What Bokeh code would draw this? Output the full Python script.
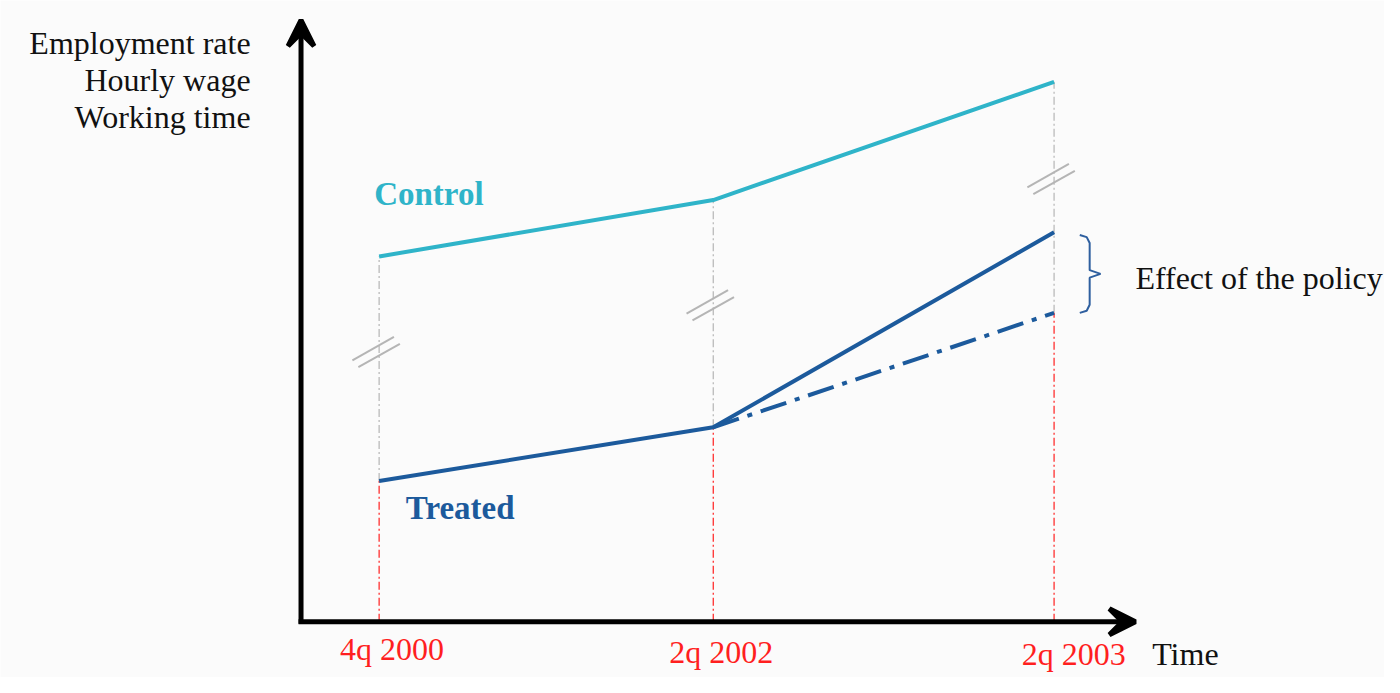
from bokeh.plotting import figure
from bokeh.models import Arrow, VeeHead, Range1d
from bokeh.core.properties import value
from bokeh.embed import file_html
from bokeh.resources import INLINE

# ---- data (schematic levels) ----
periods = ["4q 2000", "2q 2002", "2q 2003"]
period_x = [0.0, 1.0, 2.02]
control = [68.0, 78.5, 100.5]
treated = [26.2, 36.2, 72.5]
counterfactual_x = [1.0, 2.02]
counterfactual = [36.2, 57.5]
break_y = [50.2, 58.9, 82.4]
y_labels = ["Employment rate", "Hourly wage", "Working time"]
x_label = "Time"
series_labels = ["Control", "Treated"]
effect_label = "Effect of the policy"

# ---- layout: reference picture is 1400x693; data unit = 338 px in x, 5.5 px in y ----
W, H = 1384, 677
REF_W, REF_H = 1400, 693
UX, UY = 338.0, 5.5          # reference px per data unit
OX, OY = 383.0, 636.0        # reference px of data origin


def X(ref_px):
    return (ref_px - OX) / UX


def Y(ref_py):
    return (OY - ref_py) / UY


BG = "#fbfbfb"
C_CONTROL = "#2fb4c9"
C_TREATED = "#1c5a9c"
C_RED = "#ff1f1f"
C_GRAY = "#b5b5b5"
FONT = value("Liberation Serif")
FS = "32px"
FSB = "33px"

p = figure(width=W, height=H, x_range=Range1d(X(0), X(REF_W)), y_range=Range1d(Y(REF_H), Y(0)),
           output_backend="svg", toolbar_location=None, min_border=0,
           x_axis_type=None, y_axis_type=None,
           background_fill_color=BG, border_fill_color=BG, outline_line_color=None)
p.grid.visible = False

# vertical guides
lower = [treated[0], treated[1], counterfactual[-1]]
p.segment(x0=period_x, y0=lower, x1=period_x, y1=control, line_color=C_GRAY,
          line_width=1.2, line_dash="8 3 2 3")
p.segment(x0=period_x, y0=[0] * 3, x1=period_x, y1=lower, line_color=C_RED,
          line_width=1.2, line_dash="8 3 2 3")

# break marks (two short parallel strokes)
hx, hy = 21 / UX, 12 / UY
ddx, ddy = 3 / UX, 3.5 / UY
bx0, by0, bx1, by1 = [], [], [], []
for xv, yv in zip(period_x, break_y):
    cx = xv - 3 / UX
    for s in (-1, 1):
        mx, my = cx + s * ddx, yv - s * ddy
        bx0.append(mx - hx); by0.append(my - hy)
        bx1.append(mx + hx); by1.append(my + hy)
p.segment(x0=bx0, y0=by0, x1=bx1, y1=by1, line_color=C_GRAY, line_width=2)

# series
p.line(period_x, control, line_color=C_CONTROL, line_width=4)
p.line(period_x, treated, line_color=C_TREATED, line_width=4)
p.line(counterfactual_x, counterfactual, line_color=C_TREATED, line_width=4,
       line_dash="27 9 5 9")

# axes drawn as arrows
ax = X(304)
p.add_layout(Arrow(end=VeeHead(size=26, line_width=5, line_color="black"),
                   x_start=ax, y_start=Y(638), x_end=ax, y_end=Y(20),
                   line_width=5, line_color="black"))
p.add_layout(Arrow(end=VeeHead(size=26, line_width=5, line_color="black"),
                   x_start=X(301.5), y_start=0, x_end=X(1148), y_end=0,
                   line_width=5, line_color="black"))

# brace showing the effect
bx_a = period_x[-1] + 26 / UX
bx_b = period_x[-1] + 36 / UX
bx_c = period_x[-1] + 47 / UX
top = treated[-1] - 0.5
bot = counterfactual[-1]
mid = (top + bot) / 2
p.line([bx_a, bx_b - 3 / UX, bx_b, bx_b, bx_c, bx_b, bx_b, bx_b - 3 / UX, bx_a],
       [top, top - 0.4, top - 1.5, mid + 0.7, mid, mid - 0.7, bot + 1.5, bot + 0.4, bot],
       line_color="#2e5f9f", line_width=2)

# texts (baseline positions in reference px)
p.text(x=[X(253)] * 3, y=[Y(44), Y(81), Y(119)], text=y_labels, text_align="right",
       text_baseline="alphabetic", text_font=FONT, text_font_size=FS, text_color="#111111")

p.text(x=[X(378)], y=[Y(198)], text=[series_labels[0]], text_font=FONT, text_font_size=FSB,
       text_font_style="bold", text_color=C_CONTROL, text_baseline="alphabetic")
p.text(x=[X(410)], y=[Y(519)], text=[series_labels[1]], text_font=FONT, text_font_size=FSB,
       text_font_style="bold", text_color=C_TREATED, text_baseline="alphabetic")

p.text(x=[X(1148)], y=[Y(284)], text=[effect_label], text_font=FONT, text_font_size=FS,
       text_color="#111111", text_baseline="alphabetic")

tick_dx = [13 / UX, 8 / UX, 20 / UX]
tick_base = [Y(664), Y(667), Y(669)]
p.text(x=[px + d for px, d in zip(period_x, tick_dx)], y=tick_base, text=periods,
       text_align="center", text_baseline="alphabetic", text_font=FONT,
       text_font_size=FS, text_color=C_RED)
p.text(x=[X(1165)], y=[Y(669)], text=[x_label], text_font=FONT, text_font_size=FS,
       text_color="#111111", text_baseline="alphabetic")

open("out.html", "w").write(file_html(p, INLINE))
